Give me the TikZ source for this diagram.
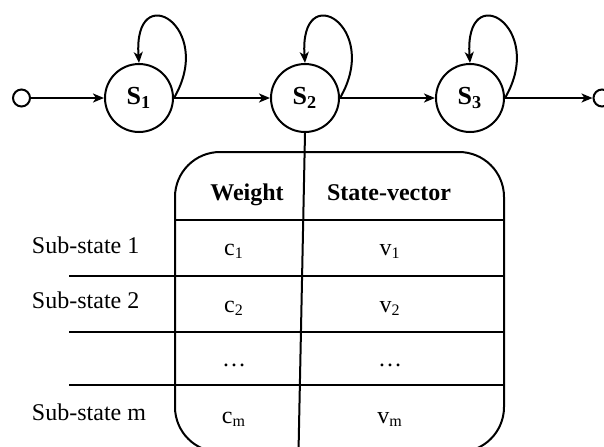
\documentclass[tikz,border=0pt]{standalone}
\usepackage{fontspec}
\setmainfont{Liberation Serif}
\usetikzlibrary{arrows.meta}

\newcommand*{\boxleft}{175}
\newcommand*{\boxright}{504}
\newcommand*{\rowleft}{69}
\newcommand*{\rowright}{505}
\newcommand*{\ccol}{234}
\newcommand*{\vcol}{390}

\begin{document}
\begin{tikzpicture}
[
	x=0.5pt, y=-0.5pt,
	line width=1pt,
	state/.style={circle,draw,inner sep=0pt,minimum size=34pt,font=\fontsize{13}{15}\selectfont\bfseries},
	endpt/.style={circle,draw,inner sep=0pt,minimum size=8.5pt},
	trans/.style={-{Stealth[length=5.5pt,width=4.5pt,inset=1.5pt]}},
	cell/.style={anchor=base,inner sep=0pt,font=\fontsize{12}{14}\selectfont},
	head/.style={cell,font=\fontsize{12}{14}\selectfont\bfseries}
]

	\useasboundingbox (0,0) rectangle (604,446);

	% states
	\node[endpt] (start) at (21.5,98) {};
	\node[state] (s1) at (139,98) {S\textsubscript{1}};
	\node[state] (s2) at (305,98) {S\textsubscript{2}};
	\node[state] (s3) at (470,98) {S\textsubscript{3}};
	\node[endpt] (stop) at (602,98) {};

	\draw[trans] (start) -- (s1);
	\draw[trans] (s1) -- (s2);
	\draw[trans] (s2) -- (s3);
	\draw[trans] (s3) -- (stop);

	% self loops
	\draw[trans] (s1.east) .. controls +(42,-72) and +(-6,-86) .. (s1.north);
	\draw[trans] (s2.east) .. controls +(42,-72) and +(-6,-86) .. (s2.north);
	\draw[trans] (s3.east) .. controls +(42,-72) and +(-6,-86) .. (s3.north);

	% table
	\draw[rounded corners=22.5pt] (\boxleft,152) rectangle (\boxright,452);
	\draw (\boxleft,220) -- (\boxright,220);
	\draw (\rowleft,276) -- (\rowright,276);
	\draw (\rowleft,332) -- (\rowright,332);
	\draw (\rowleft,385) -- (\rowright,385);

	\coordinate (divend) at (298.5,452);
	\draw (s2.south) -- (divend);

	\node[head] (hw) at (247,200) {Weight};
	\node[head] (hs) at (389,200) {State-vector};

	\node[cell,anchor=base west] (sub1) at (31,253) {Sub-state 1};
	\node[cell,anchor=base west] (sub2) at (31,308) {Sub-state 2};
	\node[cell,anchor=base west] (subm) at (31,420) {Sub-state m};

	\node[cell] (c1) at (\ccol,255) {c\textsubscript{1}};
	\node[cell] (v1) at (\vcol,255) {v\textsubscript{1}};
	\node[cell] (c2) at (\ccol,312) {c\textsubscript{2}};
	\node[cell] (v2) at (\vcol,312) {v\textsubscript{2}};
	\node[cell] (cdots) at (\ccol,366) {…};
	\node[cell] (vdots) at (\vcol,366) {…};
	\node[cell] (cm) at (\ccol,423) {c\textsubscript{m}};
	\node[cell] (vm) at (\vcol,423) {v\textsubscript{m}};

\end{tikzpicture}
\end{document}
